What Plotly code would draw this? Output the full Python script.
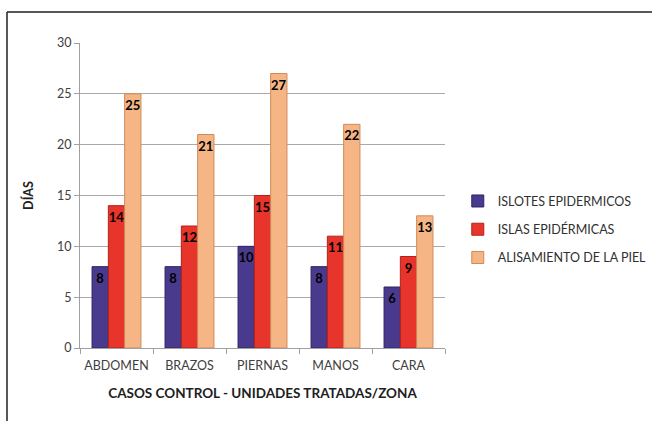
import plotly.graph_objects as go

categories = ["ABDOMEN", "BRAZOS", "PIERNAS", "MANOS", "CARA"]
islotes = [8, 8, 10, 8, 6]
islas = [14, 12, 15, 11, 9]
alisamiento = [25, 21, 27, 22, 13]
series_names = ["ISLOTES EPIDERMICOS", "ISLAS EPIDÉRMICAS", "ALISAMIENTO DE LA PIEL"]
y_ticks = [0, 5, 10, 15, 20, 25, 30]

FONT = "Lato"
colors = ["#4a3a8e", "#e8352b", "#f6b585"]
lines = ["#2e2266", "#b3221a", "#d08a58"]

fig = go.Figure()
for i, (name, vals) in enumerate(zip(series_names, [islotes, islas, alisamiento])):
    fig.add_trace(go.Bar(
        x=categories, y=vals, name=name,
        marker=dict(color=colors[i], line=dict(color=lines[i], width=1)),
        text=[str(v) for v in vals], textposition="inside", insidetextanchor="end",
        textangle=0, cliponaxis=False,
        textfont=dict(family=FONT, size=13, color="black", weight="bold"),
        legendgroup=f"g{i}",
    ))

fig.update_layout(
    width=652, height=421,
    margin=dict(l=80, r=207, t=43, b=73, autoexpand=False),
    paper_bgcolor="white", plot_bgcolor="white",
    barmode="group", bargap=0.33, bargroupgap=0,
    uniformtext=dict(minsize=13, mode="show"),
    font=dict(family=FONT, size=12, color="#404040"),
    showlegend=True,
    legend=dict(x=1.035, y=0.53, xanchor="left", yanchor="top",
                font=dict(family=FONT, size=12.5, color="#303030"),
                tracegroupgap=9, itemwidth=30),
    xaxis=dict(
        tickson="boundaries", ticks="outside", ticklen=5, tickcolor="#a0a0a0",
        showline=True, linecolor="#a0a0a0", linewidth=1, tickangle=0,
        ticklabelstandoff=6,
        tickfont=dict(family=FONT, size=12.5, color="#404040"),
        title=dict(text="<b>CASOS CONTROL - UNIDADES TRATADAS/ZONA</b>",
                   font=dict(family=FONT, size=13.5, color="#202020"), standoff=16),
    ),
    yaxis=dict(
        range=[0, 30], tickvals=y_ticks, showgrid=True, gridcolor="#b0a8a8",
        gridwidth=1, ticks="outside", ticklen=5, tickcolor="#a0a0a0",
        showline=True, linecolor="#a0a0a0", zeroline=False,
        tickfont=dict(family=FONT, size=12.5, color="#404040"),
        title=dict(text="<b>DÍAS</b>", font=dict(family=FONT, size=12.5, color="#202020"),
                   standoff=20),
    ),
)

# outer frame (top and left edges visible)
fig.add_shape(type="line", xref="paper", yref="paper",
              x0=-0.2, x1=1.6, y0=1.1016, y1=1.1016, line=dict(color="#202020", width=1.5))
fig.add_shape(type="line", xref="paper", yref="paper",
              x0=-0.2, x1=-0.2, y0=1.1016, y1=-0.3, line=dict(color="#202020", width=1.5))

fig.write_html("out.html")
